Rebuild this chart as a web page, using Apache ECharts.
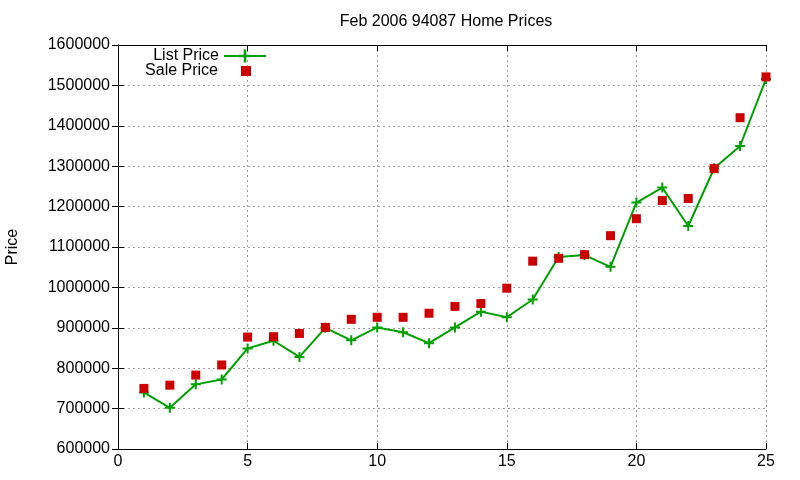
<!DOCTYPE html>
<html lang="en">
<head>
    <meta charset="UTF-8">
    <title>Feb 2006 94087 Home Prices</title>
    <script src="https://cdn.jsdelivr.net/npm/echarts@6/dist/echarts.min.js"></script>
    <style>
        html,body{margin:0;height:100%;background:#fff;}
    </style>
</head>
<body>
<div id="main" style="width:800px;height:480px"></div>
<script>
    // 数据
    var months = [1,2,3,4,5,6,7,8,9,10,11,12,13,14,15,16,17,18,19,20,21,22,23,24,25];
    var listPrice = [740000,702000,760000,772000,849000,868000,828000,900000,869000,901000,889000,862000,
        901000,940000,926000,970000,1075000,1080000,1051000,1210000,1247000,1152000,1295000,1350000,1516000];
    var salePrice = [750000,758000,783000,808000,877000,878000,886000,901000,921000,926000,926000,936000,
        953000,960000,998000,1065000,1072000,1081000,1128000,1170000,1215000,1220000,1294000,1420000,1521000];
    var yTicks = {min:600000, max:1600000, step:100000};

    var font = '"Liberation Sans", Arial, sans-serif';
    var plus = 'path://M4,0h2v4h4v2h-4v4h-2v-4h-4v-2h4z';

    function pairs(xs, ys){
        var out = [];
        for (var i = 0; i < xs.length; i++) out.push([xs[i], ys[i]]);
        return out;
    }

    var axisLine = {show:true, lineStyle:{color:'#000', width:1}};
    var tick = {show:true, inside:true, length:6, lineStyle:{color:'#000'}};
    var grid = {show:true, lineStyle:{color:'#a0a0a0', type:[2,3], width:1}};
    var txt = {fontFamily:font, fontSize:16, color:'#000'};

    var myChart = echarts.init(document.getElementById('main'));
    var option = {
        animation:false,
        title:{
            text:'Feb 2006 94087 Home Prices',
            left:441, top:9, textAlign:'center',
            textStyle:{fontFamily:font, fontSize:16, fontWeight:'normal', color:'#000'}
        },
        legend:[
            {data:['List Price'], align:'right', right:533, top:48, padding:0, itemWidth:42, itemHeight:16,
                textStyle:txt},
            {data:[{name:'Sale Price', icon:'rect'}], align:'right', right:549, top:63, padding:0,
                itemWidth:10, itemHeight:10, textStyle:{fontFamily:font, fontSize:16, color:'#000', padding:[0,18,0,0]}}
        ],
        grid:{left:118, right:34, top:45, bottom:31, containLabel:false, outerBoundsMode:'none'},
        xAxis:[
            {type:'value', min:0, max:25, interval:5, axisLine:axisLine, axisTick:tick, splitLine:grid,
                axisLabel:{fontFamily:font, fontSize:16, color:'#000', margin:5}},
            {type:'value', position:'top', min:0, max:25, interval:5, axisLine:axisLine, axisTick:tick,
                splitLine:{show:false}, axisLabel:{show:false}}
        ],
        yAxis:[
            {type:'value', min:yTicks.min, max:yTicks.max, interval:yTicks.step, axisLine:axisLine, axisTick:tick,
                splitLine:grid, axisLabel:{fontFamily:font, fontSize:16, color:'#000', margin:8,
                    formatter:function(v){return String(v);}},
                name:'Price', nameLocation:'middle', nameGap:97,
                nameTextStyle:txt},
            {type:'value', position:'right', min:yTicks.min, max:yTicks.max, interval:yTicks.step,
                axisLine:axisLine, axisTick:tick, splitLine:{show:false}, axisLabel:{show:false}}
        ],
        series:[
            {name:'List Price', type:'line', data:pairs(months, listPrice),
                symbol:plus, symbolSize:10, showAllSymbol:true,
                itemStyle:{color:'#00a000'}, lineStyle:{color:'#00a000', width:2}},
            {name:'Sale Price', type:'scatter', data:pairs(months, salePrice),
                symbol:'rect', symbolSize:9, itemStyle:{color:'#cc0000', opacity:1}, z:3}
        ]
    };
    myChart.setOption(option);
</script>
</body>
</html>
